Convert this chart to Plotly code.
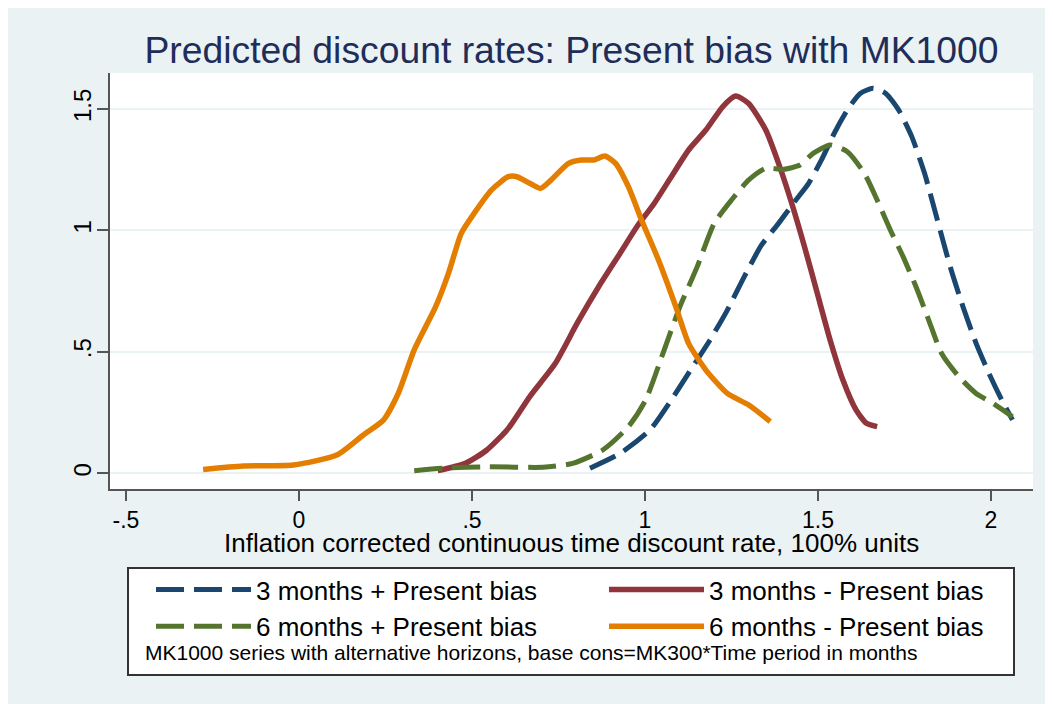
import plotly.graph_objects as go

# ---------------- data ----------------
x_3m_pb = [0.841, 0.928, 1.014, 1.076, 1.138, 1.188, 1.238, 1.287, 1.337, 1.386, 1.436, 1.473,
           1.510, 1.547, 1.585, 1.622, 1.659, 1.696, 1.733, 1.771, 1.808, 1.845, 1.882, 1.919,
           1.957, 1.994, 2.031, 2.062]
y_3m_pb = [0.021, 0.082, 0.178, 0.302, 0.439, 0.549, 0.672, 0.810, 0.940, 1.029, 1.125, 1.194,
           1.290, 1.400, 1.496, 1.564, 1.585, 1.564, 1.496, 1.386, 1.235, 1.043, 0.851, 0.686,
           0.535, 0.412, 0.302, 0.220]

x_6m_pb = [0.333, 0.419, 0.543, 0.705, 0.791, 0.878, 0.952, 1.002, 1.052, 1.101, 1.151, 1.200,
           1.250, 1.300, 1.349, 1.399, 1.448, 1.486, 1.535, 1.585, 1.634, 1.671, 1.709, 1.746,
           1.783, 1.820, 1.857, 1.907, 1.957, 2.006, 2.062]
y_6m_pb = [0.011, 0.021, 0.027, 0.025, 0.041, 0.096, 0.192, 0.302, 0.494, 0.686, 0.851, 1.029,
           1.125, 1.208, 1.256, 1.251, 1.269, 1.317, 1.352, 1.324, 1.235, 1.125, 1.002, 0.892,
           0.769, 0.631, 0.494, 0.398, 0.329, 0.288, 0.233]

x_3m_nopb = [0.401, 0.481, 0.543, 0.605, 0.667, 0.741, 0.804, 0.866, 0.928, 0.977, 1.027, 1.076,
             1.126, 1.176, 1.225, 1.262, 1.299, 1.349, 1.386, 1.424, 1.461, 1.498, 1.535, 1.572,
             1.610, 1.640, 1.671]
y_3m_nopb = [0.011, 0.041, 0.096, 0.185, 0.316, 0.453, 0.618, 0.768, 0.906, 1.016, 1.112, 1.221,
             1.331, 1.413, 1.510, 1.553, 1.523, 1.413, 1.276, 1.112, 0.933, 0.741, 0.549, 0.384,
             0.261, 0.206, 0.192]

x_6m_nopb = [-0.277, -0.161, -0.016, 0.109, 0.186, 0.244, 0.287, 0.333, 0.395, 0.432, 0.469,
             0.506, 0.556, 0.605, 0.630, 0.667, 0.698, 0.729, 0.779, 0.816, 0.853, 0.884, 0.915,
             0.952, 0.990, 1.039, 1.089, 1.126, 1.176, 1.238, 1.300, 1.362]
y_6m_nopb = [0.016, 0.030, 0.034, 0.075, 0.158, 0.219, 0.329, 0.508, 0.686, 0.823, 0.988,
             1.070, 1.166, 1.221, 1.221, 1.194, 1.173, 1.208, 1.276, 1.290, 1.290, 1.306, 1.276,
             1.180, 1.043, 0.878, 0.686, 0.535, 0.425, 0.329, 0.281, 0.213]

x_tick_vals = [-0.5, 0, 0.5, 1, 1.5, 2]
x_tick_text = ["-.5", "0", ".5", "1", "1.5", "2"]
y_tick_vals = [0, 0.5, 1, 1.5]
y_tick_text = ["0", ".5", "1", "1.5"]

title_text = "Predicted discount rates: Present bias with MK1000"
x_title_text = "Inflation corrected continuous time discount rate, 100% units"
note_text = "MK1000 series with alternative horizons, base cons=MK300*Time period in months"

# ---------------- style ----------------
FONT = "Liberation Sans, Arial, sans-serif"
NAVY, MAROON, GREEN, ORANGE = "#1a476f", "#90353b", "#55752f", "#e37e00"
BG = "#eaf2f3"
AXIS = "#555555"
OFF = 8                      # page body margin of the browser
W, H = 1053 - OFF, 704 - OFF
L, R, T, B = 110 - OFF, 20, 73 - OFF, 215
PW, PH = W - L - R, H - T - B


def px_x(p):
    """screen pixel -> paper x"""
    return (p - OFF - L) / PW


def px_y(p):
    """screen pixel -> paper y"""
    return (H - B - (p - OFF)) / PH


DASH = "28px,10px"
ITEMW = 95

fig = go.Figure()
fig.add_trace(go.Scatter(x=x_3m_pb, y=y_3m_pb, mode="lines", name="3 months + Present bias",
                         line=dict(color=NAVY, width=5, dash=DASH, shape="spline", smoothing=0.6),
                         legend="legend"))
fig.add_trace(go.Scatter(x=x_3m_nopb, y=y_3m_nopb, mode="lines", name="3 months - Present bias",
                         line=dict(color=MAROON, width=5.5, shape="spline", smoothing=0.6),
                         legend="legend2"))
fig.add_trace(go.Scatter(x=x_6m_pb, y=y_6m_pb, mode="lines", name="6 months + Present bias",
                         line=dict(color=GREEN, width=5, dash=DASH, shape="spline", smoothing=0.6),
                         legend="legend"))
fig.add_trace(go.Scatter(x=x_6m_nopb, y=y_6m_nopb, mode="lines", name="6 months - Present bias",
                         line=dict(color=ORANGE, width=5.5, shape="spline", smoothing=0.6),
                         legend="legend2"))

legend_common = dict(font=dict(family=FONT, size=26, color="#000000"),
                     bgcolor="rgba(0,0,0,0)", borderwidth=0, itemwidth=ITEMW,
                     xanchor="left", yanchor="top", orientation="v",
                     tracegroupgap=0, itemclick=False, itemdoubleclick=False)

fig.update_layout(
    width=W, height=H,
    margin=dict(l=L, r=R, t=T, b=B, autoexpand=False),
    paper_bgcolor=BG, plot_bgcolor="#ffffff",
    title=dict(text=title_text, x=0.5, xref="paper", xanchor="center",
               y=1 - (50 - OFF) / H, yref="container", yanchor="middle",
               font=dict(family=FONT, size=37.3, color="#1e2d5a")),
    xaxis=dict(range=[-0.5462, 2.1214], tickvals=x_tick_vals, ticktext=x_tick_text,
               showgrid=False, zeroline=False, showline=True, linecolor=AXIS, linewidth=1.5,
               ticks="outside", ticklen=10, tickwidth=1.5, tickcolor=AXIS,
               tickfont=dict(family=FONT, size=23, color="#000000")),
    yaxis=dict(range=[-0.0646, 1.648], tickvals=y_tick_vals, ticktext=y_tick_text,
               showgrid=True, gridcolor=BG, gridwidth=2, zeroline=False,
               showline=True, linecolor=AXIS, linewidth=1.5,
               ticks="outside", ticklen=11, tickwidth=1.5, tickcolor=AXIS, tickangle=-90,
               ticklabelstandoff=-3,
               tickfont=dict(family=FONT, size=24, color="#000000")),
    legend=dict(x=px_x(256 - ITEMW - 10), y=px_y(566), **legend_common),
    legend2=dict(x=px_x(709 - ITEMW - 10), y=px_y(566), **legend_common),
    showlegend=True,
)

# x-axis title
fig.add_annotation(text=x_title_text, xref="paper", yref="paper", x=0.5, y=px_y(543),
                   xanchor="center", yanchor="middle", showarrow=False,
                   font=dict(family=FONT, size=26, color="#000000"))
# note inside legend box
fig.add_annotation(text=note_text, xref="paper", yref="paper", x=px_x(143), y=px_y(652),
                   xanchor="left", yanchor="middle", showarrow=False,
                   font=dict(family=FONT, size=21, color="#000000"))

# legend frame
fig.add_shape(type="rect", xref="paper", yref="paper",
              x0=px_x(128), x1=px_x(1014), y0=px_y(675), y1=px_y(568),
              line=dict(color="#333333", width=2), fillcolor="#ffffff", layer="below")

fig.write_html("out.html")
